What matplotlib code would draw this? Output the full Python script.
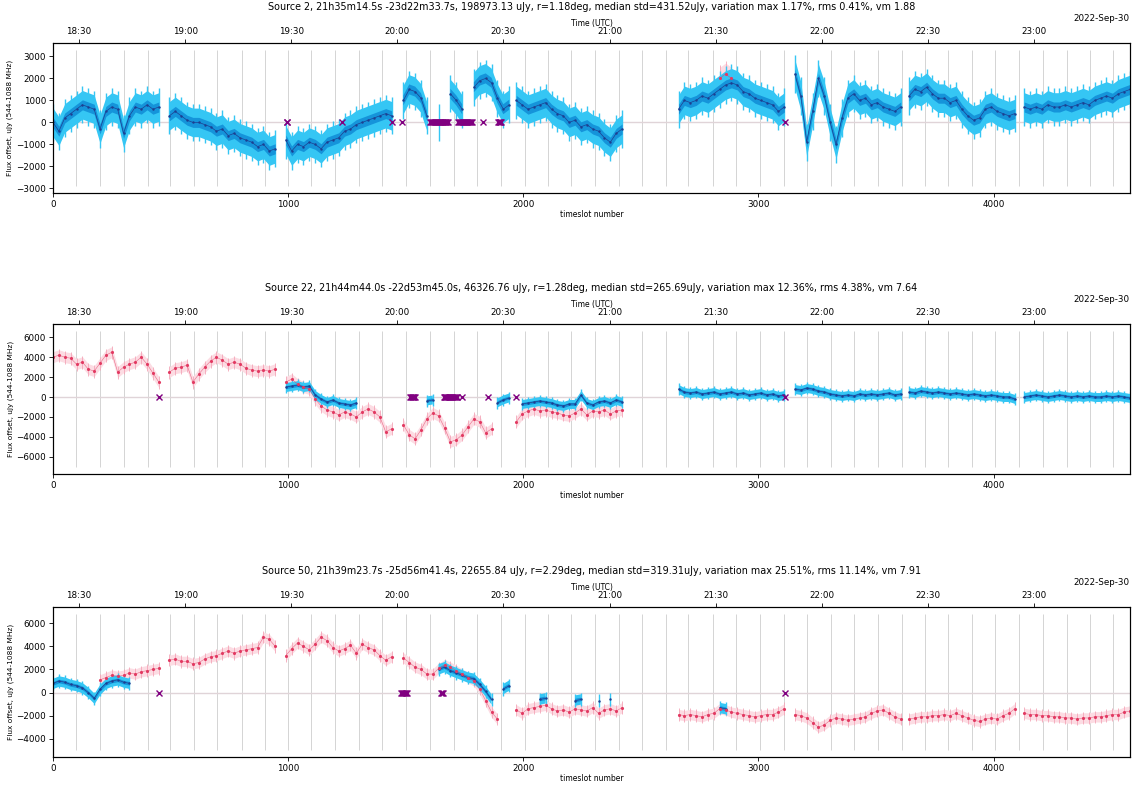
import datetime as dt
import numpy as np
import matplotlib
matplotlib.use("Agg")
import matplotlib.pyplot as plt
import matplotlib.dates as mdates
from matplotlib.ticker import MultipleLocator

nan = np.nan

# timeslot layout: 9 scans, one sample every 25 slots
step = 25
seg_starts = [0, 495, 990, 1490, 1970, 2660, 3155, 3640, 4130]
slot_max = 4580
t_start = dt.datetime(2022, 9, 30, 18, 22, 37)
dump_s = 3.99

titles = [
    "Source 2, 21h35m14.5s -23d22m33.7s, 198973.13 uJy, r=1.18deg, median std=431.52uJy, "
    "variation max 1.17%, rms 0.41%, vm 1.88",
    "Source 22, 21h44m44.0s -22d53m45.0s, 46326.76 uJy, r=1.28deg, median std=265.69uJy, "
    "variation max 12.36%, rms 4.38%, vm 7.64",
    "Source 50, 21h39m23.7s -25d56m41.4s, 22655.84 uJy, r=2.29deg, median std=319.31uJy, "
    "variation max 25.51%, rms 11.14%, vm 7.91",
]

# ---- source 2
src2_blue = [
    [0, -400, 200, 400, 600, 800, 700, 600, -300, 500, 700, 600, -500, 300, 700, 600, 800, 600, 700],
    [300, 500, 300, 100, 0, 0, -100, -200, -400, -300, -600, -500, -700, -800, -900, -1100, -1000, -1300, -1200],
    [-800, -1300, -1000, -1100, -900, -1000, -1200, -900, -800, -700, -400, -300, -100, 0, 100, 200, 300, 400, 300],
    [1000, 1500, 1400, 1100, 300, nan, 0, nan, 1300, 1000, 600, nan, 1600, 1900, 2000, 1800, 1100, 600, 800],
    [1000, 800, 600, 700, 800, 900, 600, 400, 300, 0, 100, -200, -100, -300, -400, -700, -900, -500, -300],
    [600, 1000, 900, 1000, 1200, 1100, 1300, 1500, 1700, 1800, 1700, 1400, 1300, 1100, 1000, 900, 800, 500, 700],
    [2200, 1200, -900, 500, 2000, 1200, 0, -1000, 200, 1100, 1300, 1000, 1100, 800, 900, 700, 600, 500, 700],
    [1200, 1500, 1400, 1600, 1300, 1100, 1100, 900, 1000, 600, 300, 100, 200, 600, 700, 500, 400, 300, 400],
    [700, 600, 700, 600, 800, 700, 700, 800, 700, 800, 900, 800, 1000, 1100, 1200, 1100, 1300, 1400, 1500],
]
src2_red = [
    None, None, None, None, None,
    [nan, nan, nan, nan, nan, nan, nan, 2000, 2200, 2000, nan, nan, nan, nan, nan, nan, nan, nan, nan],
    None, None, None,
]
src2_flags = [(993, 1000), (1230, 1230), (1442, 1442), (1486, 1486), (1605, 1683),
              (1724, 1783), (1829, 1829), (1891, 1907), (3112, 3112)]

# ---- source 22
src22_blue = [
    None,
    None,
    [1000, 1100, 1200, 1000, 1100, 200, -200, -500, -300, -600, -700, -800, -600, nan, nan, nan, nan, nan, nan],
    [nan, nan, nan, nan, -400, -300, nan, nan, nan, nan, nan, nan, nan, nan, nan, nan, -600, -300, -100],
    [nan, -700, -600, -500, -400, -500, -600, -800, -900, -700, -700, 200, -600, -800, -500, -400, -600, -300, -500],
    [800, 500, 400, 500, 300, 400, 500, 300, 400, 500, 300, 400, 200, 300, 400, 200, 300, 100, 200],
    [800, 700, 900, 800, 600, 500, 300, 200, 100, 200, 100, 300, 200, 300, 200, 300, 400, 200, 300],
    [500, 400, 600, 500, 400, 500, 400, 300, 400, 300, 200, 300, 200, 100, 200, 100, 0, 0, -200],
    [0, 100, 200, 100, 0, 100, 200, 100, 0, 100, 0, 100, 0, 0, 100, 0, 100, 0, -100],
]
src22_red = [
    [4000, 4200, 4000, 3900, 3300, 3500, 2800, 2600, 3400, 4200, 4500, 2500, 3000, 3300, 3500, 4000, 3300, 2400, 1500],
    [2500, 2900, 3000, 3200, 1500, 2300, 3000, 3600, 4000, 3700, 3300, 3500, 3300, 2900, 2700, 2600, 2700, 2600, 2800],
    [1500, 1800, 1300, 1000, 800, -200, -900, -1300, -1500, -1800, -1500, -1700, -2000, -1500, -1200, -1500, -2000, -3500, -3200],
    [-2800, -3800, -4200, -3300, -2200, -1600, -1900, -3100, -4500, -4300, -3800, -3000, -2200, -2500, -3600, -3200, nan, nan, nan],
    [-2500, -1700, -1400, -1200, -1400, -1300, -1500, -1600, -1800, -1900, -1600, -1200, -1800, -1400, -1500, -1300, -1700, -1400, -1300],
    None, None, None, None,
]
src22_flags = [(450, 450), (1517, 1543), (1661, 1720), (1739, 1739), (1848, 1848),
               (1971, 1971), (3112, 3112)]

# ---- source 50
src50_blue = [
    [800, 1000, 900, 700, 600, 400, 0, -500, 300, 800, 1000, 1100, 900, 800, nan, nan, nan, nan, nan],
    None,
    None,
    [nan, nan, nan, nan, nan, nan, 2000, 2200, 1900, 1700, 1500, 1300, 1200, 700, 100, -600, nan, 300, 600],
    [nan, nan, nan, nan, -600, -500, nan, nan, nan, nan, -700, -600, nan, nan, -700, nan, -600, nan, nan],
    [nan, nan, nan, nan, nan, nan, nan, -1300, -1400, nan, nan, nan, nan, nan, nan, nan, nan, nan, nan],
    None, None, None,
]
src50_red = [
    [nan, nan, nan, nan, nan, nan, nan, nan, 1100, 1300, 1500, 1400, 1500, 1700, 1600, 1800, 1900, 2000, 2100],
    [2800, 2900, 2700, 2700, 2500, 2600, 2900, 3100, 3200, 3400, 3600, 3400, 3600, 3700, 3800, 3900, 4800, 4600, 4000],
    [3200, 3800, 4300, 4000, 3700, 4200, 4800, 4500, 3900, 3600, 3800, 4100, 3400, 4200, 3900, 3700, 3200, 2800, 3100],
    [3000, 2600, 2200, 2000, 1600, 1600, 2100, 2400, 2200, 1900, 1600, 1300, 1000, 300, -700, -1700, -2300, nan, nan],
    [-1500, -1800, -1400, -1300, -1200, -1100, -1400, -1600, -1500, -1700, -1400, -1500, -1600, -1300, -1800, -1500, -1400, -1600, -1300],
    [-1900, -2000, -1900, -2000, -2100, -1900, -1800, -1400, -1500, -1700, -1800, -1900, -2000, -2100, -2000, -1900, -1900, -1700, -1400],
    [-1900, -2000, -2200, -2600, -3000, -2800, -2400, -2200, -2300, -2400, -2300, -2200, -2100, -1800, -1600, -1500, -1800, -2100, -2300],
    [-2300, -2200, -2100, -2100, -2000, -2000, -1900, -2000, -1800, -2000, -2200, -2400, -2500, -2300, -2200, -2300, -2000, -1800, -1400],
    [-1800, -1900, -1900, -2000, -2000, -2100, -2100, -2200, -2200, -2300, -2200, -2200, -2100, -2100, -2000, -1900, -1900, -1700, -1600],
]
src50_flags = [(450, 450), (1482, 1507), (1652, 1660), (3112, 3112)]

# scan boundary markers (timeslot) and their vertical extent per source
scan_lines = [96, 201, 302, 403, 499, 601, 699, 803, 901, 1001, 1099, 1201, 1303, 1401,
              1503, 1605, 1705, 1805, 1907, 2007, 2107, 2202, 2306, 2405, 2506, 2608,
              2702, 2808, 2905, 3007, 3108, 3205, 3308, 3405, 3508, 3609, 3707, 3807,
              3906, 4008, 4110, 4208, 4314, 4411, 4507]
line_extent = [(-2900, 3300), (-7050, 6650), (-4990, 6820)]
blue_err = [650, 450, 450]
red_err = [500, 550, 450]

panels = [(src2_blue, src2_red, src2_flags),
          (src22_blue, src22_red, src22_flags),
          (src50_blue, src50_red, src50_flags)]

fig = plt.figure(figsize=(11.36, 7.85), dpi=100)
tops = [43, 324, 607]
for ip, (blue, red, flags) in enumerate(panels):
    top = tops[ip]
    ax = fig.add_axes([53 / 1136, 1 - (top + 150) / 785, 1077 / 1136, 150 / 785])
    lo, hi = line_extent[ip]
    ax.vlines(scan_lines, lo, hi, color="#d4d4d4", lw=0.7, zorder=1)
    ax.axhline(0, color="#e0d4d8", lw=1.0, zorder=1)

    for iseg, start in enumerate(seg_starts):
        if red[iseg] is not None:
            v = np.array(red[iseg], float)
            x = start + step * np.arange(len(v))
            e = red_err[ip]
            ax.fill_between(x, v - e, v + e, color="#fcdce3", lw=0, zorder=2)
            ax.vlines(x, v - e * 1.2, v + e * 1.2, color="#f4a6b8", lw=0.6, zorder=2)
            ax.plot(x, v, color="#e23a62", lw=0.4, alpha=0.7, zorder=6)
            ax.plot(x, v, ls="none", color="#e23a62", marker=".", ms=2.5, zorder=6)
        if blue[iseg] is not None:
            v = np.array(blue[iseg], float)
            x = start + step * np.arange(len(v))
            e = blue_err[ip]
            ax.fill_between(x, v - e, v + e, color="#35c6f4", lw=0, zorder=3)
            ax.vlines(x, v - e * 1.3, v + e * 1.3, color="#35c6f4", lw=1.0, zorder=3)
            ax.fill_between(x, v - e * 0.35, v + e * 0.35, color="#1594da", lw=0, zorder=4)
            ax.plot(x, v, color="#1d3f91", lw=0.5, marker=".", ms=1.5, zorder=5)

    fx = np.concatenate([np.arange(a, b + 1, 4) for a, b in flags])
    ax.plot(fx, np.zeros(len(fx)), ls="none", marker="x", ms=4, mew=1.0,
            color="purple", zorder=7)

    ax.set_xlim(0, slot_max)
    pad = 0.05 * (hi - lo)
    ax.set_ylim(lo - pad, hi + pad)
    ax.xaxis.set_major_locator(MultipleLocator(1000))
    ax.tick_params(labelsize=6.3, length=3, width=0.6, pad=2)
    ax.set_xlabel("timeslot number", fontsize=5.5, labelpad=1)
    ax.set_ylabel("Flux offset, uJy (544-1088 MHz)", fontsize=5.3, labelpad=2)
    for s in ax.spines.values():
        s.set_linewidth(0.8)

    ax2 = ax.twiny()
    t_end = t_start + dt.timedelta(seconds=slot_max * dump_s)
    ax2.set_xlim(mdates.date2num(t_start), mdates.date2num(t_end))
    loc = mdates.MinuteLocator(byminute=[0, 30])
    ax2.xaxis.set_major_locator(loc)
    ax2.xaxis.set_major_formatter(mdates.ConciseDateFormatter(loc))
    ax2.tick_params(labelsize=6.3, length=3, width=0.6, pad=2)
    ax2.xaxis.get_offset_text().set_fontsize(6.3)
    ax2.set_xlabel("Time (UTC)", fontsize=5.5, labelpad=1)
    ax.set_title(titles[ip], fontsize=6.9, pad=3)

fig.savefig("out.png", dpi=100)
plt.close("all")
